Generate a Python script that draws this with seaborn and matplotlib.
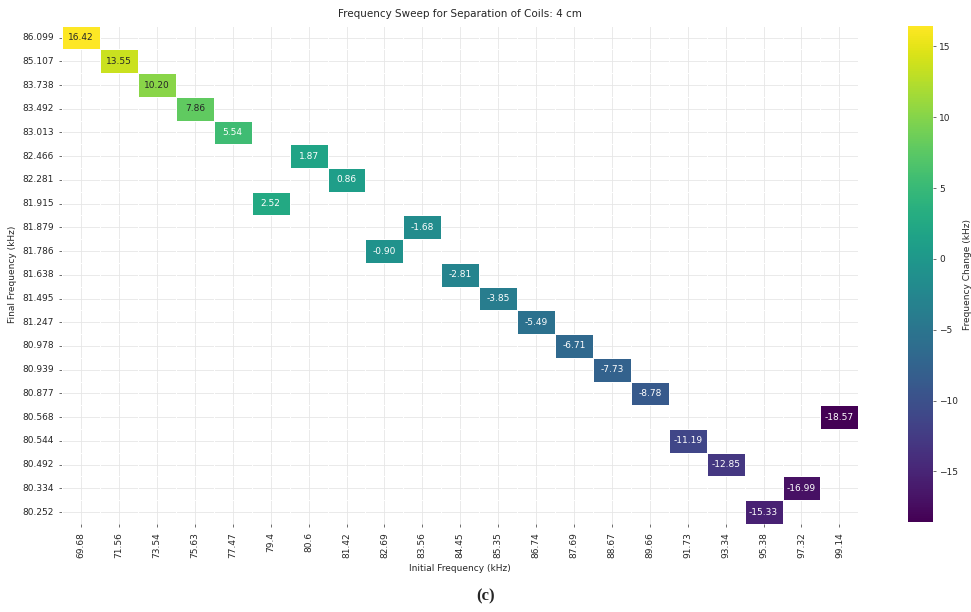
import numpy as np
import pandas as pd
import matplotlib
matplotlib.use("Agg")
import matplotlib.pyplot as plt
import seaborn as sns

initial_freq = [69.68, 71.56, 73.54, 75.63, 77.47, 79.4, 80.6, 81.42, 82.69, 83.56,
                84.45, 85.35, 86.74, 87.69, 88.67, 89.66, 91.73, 93.34, 95.38, 97.32, 99.14]
final_freq = [86.099, 85.107, 83.738, 83.492, 83.013, 81.915, 82.466, 82.281, 81.786, 81.879,
              81.638, 81.495, 81.247, 80.978, 80.939, 80.877, 80.544, 80.492, 80.252, 80.334, 80.568]
freq_change = [16.42, 13.55, 10.20, 7.86, 5.54, 2.52, 1.87, 0.86, -0.90, -1.68,
               -2.81, -3.85, -5.49, -6.71, -7.73, -8.78, -11.19, -12.85, -15.33, -16.99, -18.57]

sns.set_theme(style="whitegrid")
plt.rcParams['font.family'] = ['DejaVu Sans']

df = pd.DataFrame({"Initial": [f"{v:g}" for v in initial_freq],
                   "Final": [f"{v:.3f}" for v in final_freq],
                   "Change": freq_change})
col_order = [f"{v:g}" for v in initial_freq]
row_order = [f"{v:.3f}" for v in sorted(final_freq, reverse=True)]
pivot = df.pivot(index="Final", columns="Initial", values="Change")
pivot = pivot.reindex(index=row_order, columns=col_order)

fig = plt.figure(figsize=(9.71, 6.12), dpi=100)
ax = fig.add_axes([0.064, 0.144, 0.820, 0.814])
cax = fig.add_axes([0.935, 0.147, 0.026, 0.81])

sns.heatmap(pivot, ax=ax, cbar_ax=cax, cmap="viridis", annot=True, fmt=".2f",
            annot_kws={"size": 6.5}, linewidths=0.5, linecolor="white")
ax.grid(True, color="#e6e6e6", linewidth=0.6)
ax.set_axisbelow(True)
ax.set_title("Frequency Sweep for Separation of Coils: 4 cm", fontsize=7.5, pad=6)
ax.set_xlabel("Initial Frequency (kHz)", fontsize=6.5)
ax.set_ylabel("Final Frequency (kHz)", fontsize=6.5)
ax.tick_params(axis="both", labelsize=6.5, left=True, bottom=True, length=2.5, width=0.6, color="#555555")
plt.setp(ax.get_xticklabels(), rotation=90)
plt.setp(ax.get_yticklabels(), rotation=0)
cax.tick_params(labelsize=6.5, right=True, length=2.5, width=0.6, color="#555555", pad=2)
cax.set_ylabel("Frequency Change (kHz)", fontsize=6.5, labelpad=3)

fig.text(0.5, 0.025, "(c)", ha="center", va="center", fontsize=12,
         fontweight="bold", family=["Liberation Serif"])

fig.savefig("out.png", dpi=100)
